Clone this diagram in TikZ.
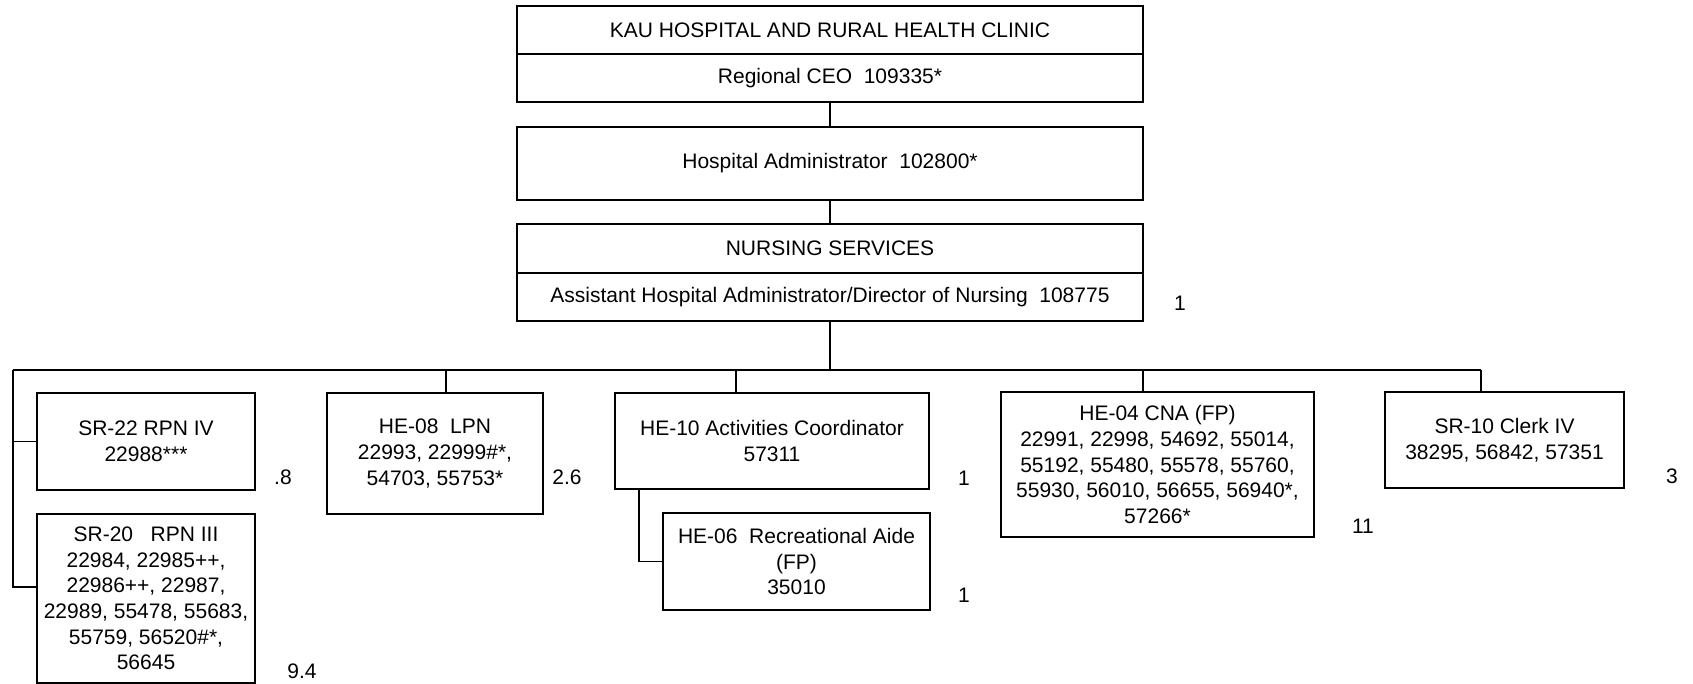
\documentclass[tikz,border=0pt]{standalone}
\usepackage{fontspec}
\setmainfont{Liberation Sans}
\newcommand\diafont{\fontsize{21}{25.7}\selectfont}
\begin{document}
\begin{tikzpicture}[x=1pt,y=-1pt,
  box/.style={draw, line width=1.6pt, inner sep=0pt, align=center, font=\diafont},
  conn/.style={line width=1.3pt},
  lbl/.style={inner sep=0pt, font=\diafont}]
\useasboundingbox (0,0) rectangle (1693,684);
\fill[white] (0,0) rectangle (1693,684);
% top column
\node[box, minimum width=626pt, minimum height=48pt] (kau) at (830,30) {KAU HOSPITAL AND RURAL HEALTH CLINIC};
\node[box, minimum width=626pt, minimum height=48pt] (ceo) at (830,78) {Regional CEO\ \ 109335*};
\node[box, minimum width=626pt, minimum height=73pt] (hadm) at (830,163.5) {Hospital Administrator\ \ 102800*};
\node[box, minimum width=626pt, minimum height=49pt] (nurs) at (830,248.5) {NURSING SERVICES};
\node[box, minimum width=626pt, minimum height=48pt] (don) at (830,297) {Assistant Hospital Administrator/Director of Nursing\ \ 108775};
% lower boxes
\node[box, minimum width=218pt, minimum height=97pt] (sr22) at (146,441.5) {SR-22 RPN IV\\22988***};
\node[box, minimum width=218pt, minimum height=169pt] (sr20) at (146,598.5) {SR-20\ \ \ RPN III\\22984, 22985++,\\22986++, 22987,\\22989, 55478, 55683,\\55759, 56520\#*,\\56645};
\node[box, minimum width=216pt, minimum height=121pt] (he08) at (435,453.5) {HE-08\ \ LPN\\22993, 22999\#*,\\54703, 55753*};
\node[box, minimum width=314pt, minimum height=96pt] (he10) at (772,441) {HE-10 Activities Coordinator\\57311};
\node[box, minimum width=267pt, minimum height=97pt] (aide) at (796.5,561.5) {HE-06\ \ Recreational Aide\\(FP)\\35010};
\node[box, minimum width=313pt, minimum height=145pt] (he04) at (1157.5,464.5) {HE-04 CNA (FP)\\22991, 22998, 54692, 55014,\\55192, 55480, 55578, 55760,\\55930, 56010, 56655, 56940*,\\57266*};
\node[box, minimum width=239pt, minimum height=96pt] (sr10) at (1504.5,440) {SR-10 Clerk IV\\38295, 56842, 57351};
% count labels
\node[lbl] (l0) at (1180,303) {1};
\node[lbl] (l1) at (283,477) {.8};
\node[lbl] (l2) at (302,671) {9.4};
\node[lbl] (l3) at (567,477) {2.6};
\node[lbl] (l4) at (964,478) {1};
\node[lbl] (l5) at (964,595) {1};
\node[lbl] (l6) at (1363,526) {11};
\node[lbl] (l7) at (1672,476) {3};
% connectors
\coordinate (busL) at (13,370);
\coordinate (busR) at (1481,370);
\coordinate (c08) at (446,370);
\coordinate (c10) at (736,370);
\coordinate (c04) at (1143,370);
\coordinate (b20) at (13,587);
\coordinate (c06) at (639,489);
\draw[conn] (ceo.south) -- (hadm.north);
\draw[conn] (hadm.south) -- (nurs.north);
\draw[conn] (don.south) -- (don.south |- busL);
\draw[conn] (busL) -- (busR);
\draw[conn] (busL) -- (b20) -- (sr20.west |- b20);
\draw[conn] (busL |- sr22.west) -- (sr22.west);
\draw[conn] (c08) -- (c08 |- he08.north);
\draw[conn] (c10) -- (c10 |- he10.north);
\draw[conn] (c04) -- (c04 |- he04.north);
\draw[conn] (busR) -- (busR |- sr10.north);
\draw[conn] (c06) |- (aide.west);
\end{tikzpicture}
\end{document}
